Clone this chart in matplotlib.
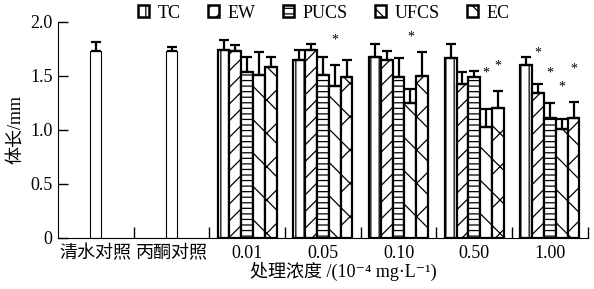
import matplotlib.pyplot as plt
import numpy as np
from matplotlib.patches import Patch

plt.rcParams['font.family'] = ['Liberation Serif', 'Noto Sans CJK SC', 'DejaVu Sans']
plt.rcParams['hatch.linewidth'] = 0.9

categories = ['清水对照', '丙酮对照', '0.01', '0.05', '0.10', '0.50', '1.00']
series = ['TC', 'EW', 'PUCS', 'UFCS', 'EC']
hatches = ['||', '//', '---', '\\', 'x']

# controls
ctrl_mean = [1.73, 1.73]
ctrl_err = [0.08, 0.04]

# treatment groups 0.01, 0.05, 0.10, 0.50, 1.00  (per series)
means = {
    'TC':   [1.74, 1.65, 1.68, 1.67, 1.60],
    'EW':   [1.73, 1.74, 1.65, 1.43, 1.345],
    'PUCS': [1.54, 1.51, 1.49, 1.49, 1.11],
    'UFCS': [1.51, 1.41, 1.25, 1.03, 1.01],
    'EC':   [1.58, 1.49, 1.50, 1.20, 1.11],
}
errs = {
    'TC':   [0.09, 0.09, 0.12, 0.13, 0.08],
    'EW':   [0.06, 0.06, 0.08, 0.11, 0.08],
    'PUCS': [0.14, 0.17, 0.18, 0.06, 0.14],
    'UFCS': [0.21, 0.19, 0.13, 0.16, 0.09],
    'EC':   [0.10, 0.16, 0.22, 0.16, 0.15],
}
# significance marks: (group index, series index, height)
stars = [(1, 3, 1.77), (2, 3, 1.80), (3, 3, 1.47), (3, 4, 1.53),
         (4, 1, 1.65), (4, 2, 1.47), (4, 3, 1.34), (4, 4, 1.50)]

fig = plt.figure(figsize=(5.94, 2.89), dpi=100)
ax = fig.add_axes([0.0976, 0.1765, 0.892, 0.7475])

w = 0.156
x = np.arange(len(categories))
ek = dict(ecolor='black', elinewidth=1.6, capsize=3.5, capthick=1.6)

ax.bar(x[:2], ctrl_mean, w * 0.95, color='white', edgecolor='black', linewidth=0.8,
       yerr=[[0, 0], ctrl_err], error_kw=ek)

gx = x[2:]
for i, s in enumerate(series):
    pos = gx + (i - 2) * w
    ax.bar(pos, means[s], w, color='white', edgecolor='black', linewidth=1.6,
           hatch=hatches[i], yerr=[[0] * 5, errs[s]], error_kw=ek)

for g, si, h in stars:
    ax.text(gx[g] + (si - 2) * w, h, '*', ha='center', va='bottom', fontsize=10)

ax.set_xlim(-0.5, len(categories) - 0.5)
ax.set_ylim(0, 2.0)
ax.set_yticks([0, 0.5, 1.0, 1.5, 2.0])
ax.set_yticklabels(['0', '0.5', '1.0', '1.5', '2.0'], fontsize=13)
ax.set_xticks(x)
ax.set_xticklabels(categories, fontsize=13)
ax.tick_params(axis='x', which='major', length=0, pad=5)
ax.set_xticks(np.arange(0.5, len(categories), 1.0), minor=True)
ax.tick_params(axis='x', which='minor', direction='in', length=8, width=1)
ax.tick_params(axis='y', direction='in', length=7, width=1, pad=4)
ax.spines['top'].set_visible(False)
ax.spines['right'].set_visible(False)
ax.set_ylabel('体长/mm', fontsize=13, labelpad=4)
ax.set_xlabel('处理浓度 /(10⁻⁴ mg·L⁻¹)', fontsize=13)
ax.xaxis.set_label_coords(0.538, -0.11)

handles = [Patch(facecolor='white', edgecolor='black', linewidth=1.8, hatch=h, label=s)
           for s, h in zip(series, hatches)]
fig.legend(handles=handles, loc='center', bbox_to_anchor=(0.545, 0.955), ncol=5,
           frameon=False, fontsize=13, handlelength=0.6, handleheight=0.6,
           handletextpad=0.5, columnspacing=1.5, borderpad=0)

fig.savefig('out.png', dpi=100)
